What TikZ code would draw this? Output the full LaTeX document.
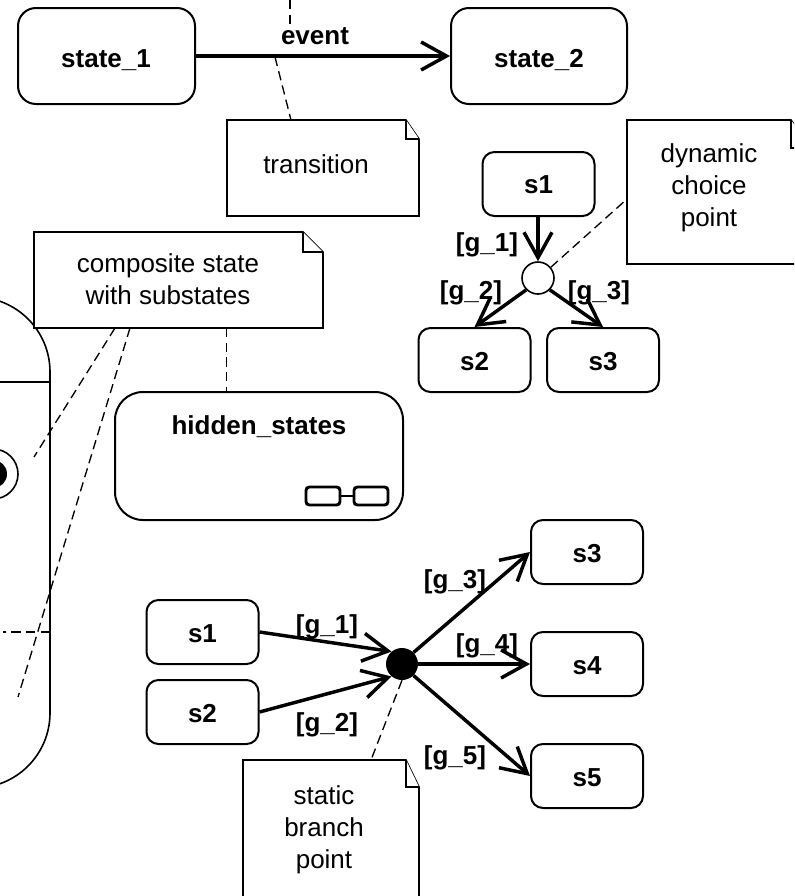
\documentclass[tikz,border=0pt]{standalone}
\usepackage{fontspec}
\setmainfont{Liberation Sans}
\usetikzlibrary{arrows.meta}
\tikzset{
  x=0.75pt,y=-0.75pt,
  statebox/.style={draw=black,line width=1.5pt,rounded corners=13.5pt,fill=white},
  statesmall/.style={draw=black,line width=1.5pt,rounded corners=9pt,fill=white},
  notebox/.style={draw=black,line width=1.2pt,fill=white},
  dashline/.style={draw=black,line width=1pt,dash pattern=on 7pt off 4pt},
  trans/.style={draw=black,line width=2.6pt,-{Straight Barb[length=19pt,width=21pt,line width=2.6pt]}},
  lbl/.style={font=\fontsize{19.5}{24}\selectfont\bfseries,inner sep=0pt},
  txt/.style={font=\fontsize{19.5}{24}\selectfont,align=center,inner sep=0pt},
}
\begin{document}
\begin{tikzpicture}
\useasboundingbox (0,0) rectangle (794,896);
\fill[white] (0,0) rectangle (794,896);
% composite state (clipped by the page)
\begin{scope}
\clip (0,0) rectangle (794,896);
\draw[line width=1.2pt] (-25,297) arc[start angle=90,end angle=0,radius=56.25pt] -- (50,713) arc[start angle=0,end angle=-90,radius=56.25pt];
\draw[line width=1.2pt] (0,382) -- (50,382);
\draw[dashline] (50,632) -- (3,632);
\draw[line width=1.2pt] (-7,474) circle[radius=18.75pt];
\fill (-7,474) circle[radius=10.5pt];
\end{scope}
% notes
\coordinate (c1) at (115,328);
\coordinate (c1e) at (34,457);
\coordinate (c2) at (130,328);
\coordinate (c2e) at (18,697);
\draw[dashline] (c1) -- (c1e);
\draw[dashline] (c2) -- (c2e);
\draw[notebox] (34,232) -- (303,232) -- (323,252) -- (323,328) -- (34,328) -- cycle;
\draw[notebox] (303,232) -- (303,252) -- (323,252);
\node[txt] (ncomp) at (168,279) {composite state\\with substates};
\coordinate (top1) at (290,0);
\coordinate (top2) at (290,24);
\draw[dashline] (top1) -- (top2);
\coordinate (ev) at (275,57);
\coordinate (nt) at (291,120);
\draw[dashline] (ev) -- (nt);
\node[statebox,minimum width=132.75pt,minimum height=72pt] (st1) at (106.5,56) {};
\node[statebox,minimum width=132pt,minimum height=72pt] (st2) at (539,56) {};
\node[lbl] at (106,60) {state\_1};
\node[lbl] at (539,60) {state\_2};
\draw[trans] (st1.east) -- (st2.west);
\node[lbl] at (315,36) {event};
\draw[notebox] (227,120) -- (406,120) -- (419,139) -- (419,216) -- (227,216) -- cycle;
\draw[notebox] (406,120) -- (406,139) -- (419,139);
\node[txt] (ntr) at (316,164) {transition};
\coordinate (hn) at (226.5,328);
\node[statebox,minimum width=216pt,minimum height=96pt,rounded corners=21pt] (hid) at (259,456) {};
\draw[dashline] (hn) -- (hid.north -| hn);
\node[lbl] at (259,427) {hidden\_states};
\draw[line width=2.2pt,rounded corners=2.5pt] (306,487) rectangle (340,505);
\draw[line width=2.2pt,rounded corners=2.5pt] (354,487) rectangle (388,505);
\draw[line width=2.2pt] (340,496) -- (354,496);
% dynamic choice
\node[statesmall,minimum width=84pt,minimum height=48pt] (a1) at (538.5,184) {};
\node[statesmall,minimum width=84pt,minimum height=48pt] (a2) at (474.5,360) {};
\node[statesmall,minimum width=84pt,minimum height=48pt] (a3) at (603,360) {};
\node[lbl] at (538.5,185) {s1};
\node[lbl] at (474.5,362) {s2};
\node[lbl] at (603,362) {s3};
\node[draw,line width=1.2pt,circle,minimum size=24pt,inner sep=0pt,fill=white] (dc) at (538,278) {};
\draw[trans] (a1.south -| dc) -- (dc.north);
\draw[trans] (dc.225) -- (a2.north);
\draw[trans] (dc.315) -- (a3.north);
\node[lbl] at (487,245) {[g\_1]};
\node[lbl] at (471,293) {[g\_2]};
\node[lbl] at (599,293) {[g\_3]};
\coordinate (dn) at (627,199);
\draw[dashline] (dc.40) -- (dn);
\begin{scope}
\clip (0,0) rectangle (794,896);
\draw[notebox] (627,120) -- (791,120) -- (811,148) -- (811,264) -- (627,264) -- cycle;
\draw[notebox] (791,120) -- (791,148) -- (811,148);
\end{scope}
\node[txt] (nd) at (709,188) {dynamic\\choice\\point};
% static branch
\node[statesmall,minimum width=84pt,minimum height=48pt] (b1) at (202.5,632) {};
\node[statesmall,minimum width=84pt,minimum height=48pt] (b2) at (202.5,712) {};
\node[statesmall,minimum width=84pt,minimum height=48pt] (b3) at (587,552) {};
\node[statesmall,minimum width=84pt,minimum height=48pt] (b4) at (587,664) {};
\node[statesmall,minimum width=84pt,minimum height=48pt] (b5) at (587,776) {};
\node[lbl] at (202.5,634) {s1};
\node[lbl] at (202.5,714) {s2};
\node[lbl] at (587,554) {s3};
\node[lbl] at (587,666) {s4};
\node[lbl] at (587,778) {s5};
\node[circle,fill=black,minimum size=24pt,inner sep=0pt] (sb) at (402,664) {};
\draw[trans] (b1.east) -- (sb.130);
\draw[trans] (b2.east) -- (sb.230);
\draw[trans] (sb.45) -- (b3.west);
\draw[trans] (sb.east) -- (b4.west);
\draw[trans] (sb.-45) -- (b5.west);
\node[lbl] at (327,627) {[g\_1]};
\node[lbl] at (327,725) {[g\_2]};
\node[lbl] at (455,582) {[g\_3]};
\node[lbl] at (487,646) {[g\_4]};
\node[lbl] at (455,758) {[g\_5]};
\coordinate (sn) at (371,760);
\draw[dashline] (sb.270) -- (sn);
\begin{scope}
\clip (0,0) rectangle (794,896);
\draw[notebox] (243,760) -- (406,760) -- (419,787) -- (419,910) -- (243,910) -- cycle;
\draw[notebox] (406,760) -- (406,787) -- (419,787);
\end{scope}
\node[txt] (ns) at (324,829.5) {static\\branch\\point};
\end{tikzpicture}
\end{document}
